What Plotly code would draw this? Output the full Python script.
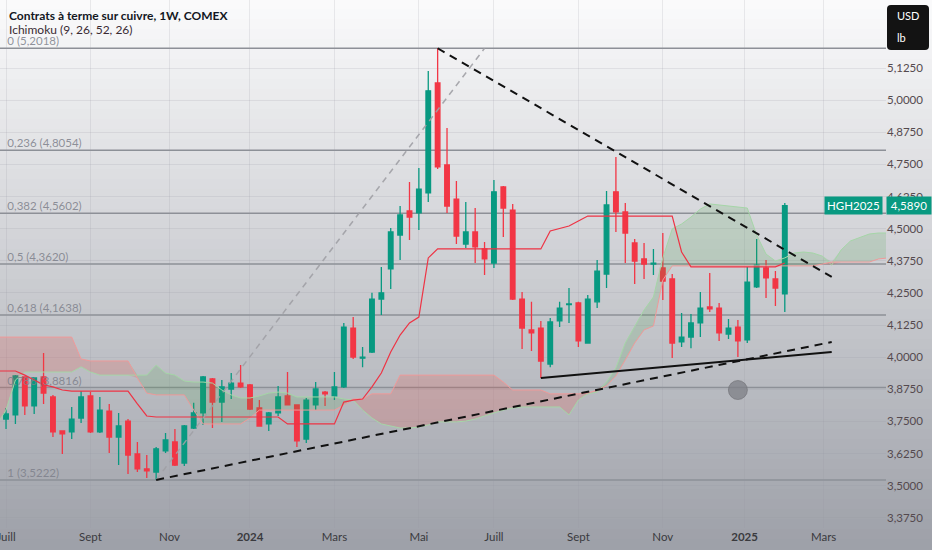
import pandas as pd
import plotly.graph_objects as go

# weekly candles (Monday of each week), HG copper futures
candle_start = "2023-07-03"
opens = [3.759, 3.775, 3.923, 3.810, 3.923, 3.845, 3.713, 3.709, 3.763, 3.849,
         3.709, 3.790, 3.689, 3.751, 3.623, 3.565, 3.553, 3.635, 3.670, 3.588,
         3.724, 3.783, 3.915, 3.825, 3.876, 3.899, 3.892, 3.802, 3.740, 3.783,
         3.849, 3.814, 3.681, 3.814, 3.864, 3.849, 3.884, 4.113, 3.996, 4.020,
         4.226, 4.343, 4.475, 4.569, 4.561, 4.639, 5.067, 4.748, 4.615, 4.440,
         4.487, 4.421, 4.366, 4.662, 4.572, 4.226, 4.106, 4.113, 3.973, 4.141,
         4.204, 4.211, 4.055, 4.215, 4.323, 4.643, 4.565, 4.444, 4.382, 4.362,
         4.347, 4.304, 4.059, 4.078, 4.133, 4.195, 4.191, 4.090, 4.117, 4.067,
         4.273, 4.347, 4.304, 4.246]
highs = [3.802, 3.930, 3.925, 3.923, 4.016, 3.853, 3.713, 3.806, 3.868, 3.864,
         3.845, 3.818, 3.783, 3.759, 3.670, 3.619, 3.650, 3.705, 3.720, 3.736,
         3.822, 3.927, 3.919, 3.911, 3.938, 3.969, 3.895, 3.833, 3.786, 3.888,
         3.942, 3.814, 3.841, 3.903, 3.868, 3.942, 4.133, 4.156, 4.039, 4.250,
         4.351, 4.502, 4.588, 4.681, 4.736, 5.113, 5.2018, 4.892, 4.685, 4.604,
         4.580, 4.448, 4.689, 4.666, 4.596, 4.253, 4.215, 4.141, 4.152, 4.215,
         4.269, 4.215, 4.242, 4.378, 4.646, 4.779, 4.600, 4.460, 4.444, 4.421,
         4.483, 4.323, 4.172, 4.168, 4.253, 4.327, 4.211, 4.148, 4.144, 4.351,
         4.460, 4.378, 4.335, 4.600]
lows = [3.720, 3.740, 3.775, 3.779, 3.818, 3.689, 3.623, 3.681, 3.744, 3.705,
        3.705, 3.627, 3.580, 3.545, 3.553, 3.530, 3.5222, 3.627, 3.576, 3.576,
        3.720, 3.736, 3.724, 3.748, 3.837, 3.880, 3.794, 3.732, 3.713, 3.771,
        3.814, 3.650, 3.666, 3.794, 3.810, 3.833, 3.880, 3.993, 3.961, 4.016,
        4.164, 4.265, 4.378, 4.456, 4.495, 4.604, 4.732, 4.561, 4.440, 4.425,
        4.366, 4.320, 4.347, 4.467, 4.222, 4.032, 4.024, 3.919, 3.961, 4.117,
        4.133, 4.039, 4.052, 4.191, 4.269, 4.487, 4.366, 4.285, 4.304, 4.320,
        4.222, 3.997, 4.039, 4.035, 4.078, 4.176, 4.063, 4.071, 4.000, 4.055,
        4.269, 4.230, 4.199, 4.176]
closes = [3.779, 3.927, 3.810, 3.919, 3.860, 3.709, 3.701, 3.759, 3.845, 3.709,
          3.794, 3.689, 3.732, 3.619, 3.565, 3.557, 3.643, 3.678, 3.580, 3.732,
          3.783, 3.923, 3.825, 3.884, 3.899, 3.884, 3.798, 3.732, 3.783, 3.845,
          3.814, 3.674, 3.833, 3.876, 3.857, 3.884, 4.117, 4.000, 4.000, 4.226,
          4.250, 4.487, 4.553, 4.545, 4.654, 5.036, 4.740, 4.588, 4.471, 4.487,
          4.429, 4.382, 4.643, 4.580, 4.226, 4.113, 4.094, 3.985, 4.137, 4.191,
          4.207, 4.063, 4.226, 4.335, 4.592, 4.565, 4.483, 4.374, 4.362, 4.366,
          4.296, 4.055, 4.078, 4.133, 4.191, 4.188, 4.094, 4.113, 4.063, 4.292,
          4.358, 4.308, 4.269, 4.589]

# ichimoku lines as drawn (base line, and the cloud which runs 26 weeks ahead)
ichi_start = "2023-06-26"
kijun = [3.946, 3.946, 3.946, 3.930, 3.911, 3.892, 3.884, 3.872, 3.868, 3.868,
         3.868, 3.868, 3.868, 3.868, 3.868, 3.818, 3.771, 3.767, 3.767, 3.767,
         3.767, 3.767, 3.767, 3.767, 3.767, 3.767, 3.767, 3.767, 3.767, 3.767,
         3.767, 3.740, 3.740, 3.740, 3.740, 3.740, 3.740, 3.825, 3.833, 3.837,
         3.884, 3.938, 4.020, 4.086, 4.133, 4.156, 4.386, 4.421, 4.421, 4.421,
         4.421, 4.421, 4.421, 4.421, 4.421, 4.421, 4.421, 4.421, 4.421, 4.491,
         4.502, 4.510, 4.530, 4.549, 4.549, 4.549, 4.549, 4.549, 4.549, 4.549,
         4.549, 4.549, 4.549, 4.409, 4.351, 4.351, 4.351, 4.351, 4.351, 4.351,
         4.351, 4.351, 4.351, 4.351, 4.366]
span_a = [3.736, 3.794, 3.911, 3.942, 3.942, 3.942, 3.942, 3.942, 3.942, 3.962,
          3.942, 3.930, 3.930, 3.930, 3.930, 3.930, 3.930, 3.969, 3.938, 3.930,
          3.907, 3.903, 3.903, 3.899, 3.872, 3.853, 3.841, 3.841, 3.849, 3.860,
          3.864, 3.860, 3.845, 3.845, 3.845, 3.845, 3.845, 3.837, 3.833, 3.794,
          3.763, 3.740, 3.732, 3.724, 3.724, 3.728, 3.736, 3.748, 3.748, 3.748,
          3.751, 3.759, 3.771, 3.783, 3.794, 3.802, 3.806, 3.806, 3.806, 3.806,
          3.806, 3.775, 3.833, 3.857, 3.864, 3.903, 3.958, 4.055, 4.117, 4.183,
          4.234, 4.386, 4.499, 4.518, 4.545, 4.576, 4.596, 4.592, 4.588, 4.584,
          4.580, 4.475, 4.401, 4.374, 4.386, 4.405, 4.409, 4.405, 4.393, 4.358,
          4.417, 4.452, 4.467, 4.479, 4.483, 4.483]
span_b = [4.078, 4.078, 4.078, 4.078, 4.078, 4.078, 4.078, 4.078, 4.078, 3.993,
          3.985, 3.985, 3.985, 3.985, 3.985, 3.919, 3.860, 3.853, 3.853, 3.853,
          3.853, 3.794, 3.740, 3.740, 3.740, 3.740, 3.740, 3.763, 3.794, 3.794,
          3.794, 3.794, 3.794, 3.794, 3.794, 3.794, 3.794, 3.814, 3.837, 3.837,
          3.857, 3.857, 3.857, 3.930, 3.930, 3.930, 3.930, 3.930, 3.930, 3.930,
          3.930, 3.930, 3.930, 3.930, 3.903, 3.872, 3.872, 3.872, 3.872, 3.857,
          3.857, 3.857, 3.857, 3.860, 3.872, 3.888, 3.927, 3.989, 4.055, 4.106,
          4.121, 4.300, 4.355, 4.355, 4.355, 4.355, 4.355, 4.355, 4.355, 4.355,
          4.355, 4.355, 4.355, 4.355, 4.355, 4.355, 4.355, 4.355, 4.362, 4.370,
          4.370, 4.370, 4.370, 4.370, 4.382, 4.386]

# fibonacci retracement
fib_ratios = [0, 0.236, 0.382, 0.5, 0.618, 0.786, 1]
fib_prices = [5.2018, 4.8054, 4.5602, 4.3620, 4.1638, 3.8816, 3.5222]
fib_label_date = "2023-07-04"
fib_diag_dates = ["2023-10-23", "2024-06-24"]
fib_diag_prices = [3.5222, 5.2018]

# trend lines drawn on the chart
low_trend_dates = ["2023-10-23", "2025-03-10"]
low_trend_prices = [3.5222, 4.059]
high_trend_dates = ["2024-05-20", "2025-03-10"]
high_trend_prices = [5.2018, 4.312]
support_dates = ["2024-08-05", "2025-03-10"]
support_prices = [3.919, 4.020]
event_dates = ["2024-12-30"]
event_prices = [3.872]

last_price = 4.589

# time axis labels sit on the first weekly bar of each month
month_ticks = ["2023-07-03", "2023-09-04", "2023-11-02", "2024-01-01", "2024-03-04",
               "2024-05-06", "2024-07-01", "2024-09-02", "2024-11-04", "2025-01-04",
               "2025-03-04"]
month_labels = ["Juill", "Sept", "Nov", "<b>2024</b>", "Mars", "Mai", "Juill", "Sept",
                "Nov", "<b>2025</b>", "Mars"]
price_ticks = [3.375, 3.5, 3.625, 3.75, 3.875, 4.0, 4.125, 4.25, 4.375, 4.5, 4.625,
               4.75, 4.875, 5.0, 5.125]

GREEN = "#089981"
RED = "#F23645"

candle_dates = pd.date_range(candle_start, periods=len(opens), freq="W-MON")
ichi_dates = pd.date_range(ichi_start, periods=len(span_a), freq="W-MON")
kijun_dates = ichi_dates[:len(kijun)]

fig = go.Figure()

# cloud: green where span A is above span B, red otherwise
upper = [max(a, b) for a, b in zip(span_a, span_b)]
lower = [min(a, b) for a, b in zip(span_a, span_b)]
clear = dict(width=0, color="rgba(0,0,0,0)")
fig.add_trace(go.Scatter(x=ichi_dates, y=span_b, mode="lines", line=clear, hoverinfo="skip"))
fig.add_trace(go.Scatter(x=ichi_dates, y=upper, mode="lines", line=clear, fill="tonexty",
                         fillcolor="rgba(67,160,71,0.16)", hoverinfo="skip"))
fig.add_trace(go.Scatter(x=ichi_dates, y=span_b, mode="lines", line=clear, hoverinfo="skip"))
fig.add_trace(go.Scatter(x=ichi_dates, y=lower, mode="lines", line=clear, fill="tonexty",
                         fillcolor="rgba(244,67,54,0.18)", hoverinfo="skip"))
fig.add_trace(go.Scatter(x=ichi_dates, y=span_a, mode="lines",
                         line=dict(color="#A5D6A7", width=1)))
fig.add_trace(go.Scatter(x=ichi_dates, y=span_b, mode="lines",
                         line=dict(color="#EF9A9A", width=1)))
fig.add_trace(go.Scatter(x=kijun_dates, y=kijun, mode="lines",
                         line=dict(color="#EE3344", width=1.2)))

# fib labels go under the candles, like on the original
fib_labels = [f"{r} ({p:.4f})".replace(".", ",") for r, p in zip(fib_ratios, fib_prices)]
fig.add_trace(go.Scatter(x=[fib_label_date] * len(fib_prices), y=fib_prices, mode="text",
                         text=fib_labels, textposition="top right",
                         textfont=dict(size=11.5, color="rgba(125,128,138,0.85)")))

# fib diagonal
fig.add_trace(go.Scatter(x=fib_diag_dates, y=fib_diag_prices, mode="lines",
                         line=dict(color="rgba(160,160,165,0.9)", width=1.5, dash="6px,5px")))

fig.add_trace(go.Candlestick(
    x=candle_dates, open=opens, high=highs, low=lows, close=closes,
    increasing=dict(line=dict(color=GREEN, width=1.3), fillcolor=GREEN),
    decreasing=dict(line=dict(color=RED, width=1.3), fillcolor=RED),
))

# drawings
fig.add_trace(go.Scatter(x=low_trend_dates, y=low_trend_prices, mode="lines",
                         line=dict(color="#111111", width=2, dash="8px,6px")))
fig.add_trace(go.Scatter(x=high_trend_dates, y=high_trend_prices, mode="lines",
                         line=dict(color="#111111", width=2, dash="8px,6px")))
fig.add_trace(go.Scatter(x=support_dates, y=support_prices, mode="lines",
                         line=dict(color="#111111", width=2)))
fig.add_trace(go.Scatter(x=event_dates, y=event_prices, mode="markers",
                         marker=dict(size=19, color="rgba(125,127,133,0.75)",
                                     line=dict(width=1, color="rgba(110,110,115,0.6)"))))

# background gradient, white at the top going grey at the bottom
PLOT_H = 528
n_strips = 55
for i in range(n_strips):
    t = (i + 0.5) / n_strips
    r = round(251 + (157 - 251) * t)
    g = round(251 + (160 - 251) * t)
    b = round(252 + (168 - 252) * t)
    top_px = 550 * i / n_strips
    bot_px = 550 * (i + 1) / n_strips
    fig.add_shape(type="rect", xref="paper", yref="paper", x0=-0.01, x1=1.06,
                  y0=(PLOT_H - bot_px) / PLOT_H, y1=(PLOT_H - top_px) / PLOT_H + 0.002,
                  fillcolor=f"rgb({r},{g},{b})", line_width=0, layer="below")

# fib levels
for price in fib_prices:
    fig.add_shape(type="line", xref="paper", yref="y", x0=0, x1=1, y0=price, y1=price,
                  line=dict(color="#8d9097", width=1.5), layer="below")

# titles
fig.add_annotation(x=0.008, y=(PLOT_H - 15) / PLOT_H, xref="paper", yref="paper",
                   text="<b>Contrats à terme sur cuivre, 1W, COMEX</b>", showarrow=False,
                   xanchor="left", yanchor="middle", font=dict(size=12, color="#131722"))
fig.add_annotation(x=0.008, y=(PLOT_H - 30) / PLOT_H, xref="paper", yref="paper",
                   text="Ichimoku (9, 26, 52, 26)", showarrow=False,
                   xanchor="left", yanchor="middle", font=dict(size=12, color="#3a2a33"))

# currency box, top right
x0, x1 = 887 / 886, 929 / 886
y0, y1 = (PLOT_H - 50) / PLOT_H, (PLOT_H - 5) / PLOT_H
rx, ry = 4 / 886, 4 / PLOT_H
box = (f"M {x0+rx},{y1} L {x1-rx},{y1} Q {x1},{y1} {x1},{y1-ry} L {x1},{y0+ry} "
       f"Q {x1},{y0} {x1-rx},{y0} L {x0+rx},{y0} Q {x0},{y0} {x0},{y0+ry} "
       f"L {x0},{y1-ry} Q {x0},{y1} {x0+rx},{y1} Z")
fig.add_shape(type="path", xref="paper", yref="paper", path=box,
              fillcolor="#131313", line_width=0, layer="above")
fig.add_annotation(x=895 / 886, y=(PLOT_H - 15) / PLOT_H, xref="paper", yref="paper",
                   text="USD", showarrow=False, xanchor="left", yanchor="middle",
                   font=dict(size=11, color="white"))
fig.add_annotation(x=895 / 886, y=(PLOT_H - 37) / PLOT_H, xref="paper", yref="paper",
                   text="lb", showarrow=False, xanchor="left", yanchor="middle",
                   font=dict(size=11, color="white"))

# last price labels
fig.add_annotation(x=1, y=last_price, xref="paper", yref="y", text="HGH2025",
                   showarrow=False, xanchor="right", yanchor="middle", xshift=-3,
                   bgcolor=GREEN, borderpad=2, font=dict(size=11.5, color="white"))
fig.add_annotation(x=1, y=last_price, xref="paper", yref="y",
                   text=f"{last_price:.4f}".replace(".", ","),
                   showarrow=False, xanchor="left", yanchor="middle", xshift=0,
                   bgcolor=GREEN, borderpad=2, width=40,
                   font=dict(size=11.5, color="white"))

fig.update_layout(
    width=932, height=550,
    margin=dict(l=0, r=46, t=0, b=22, autoexpand=False),
    paper_bgcolor="#d0d1d5", plot_bgcolor="rgba(0,0,0,0)",
    showlegend=False, hovermode=False, separators=", ",
    font=dict(family="Lato, Roboto, sans-serif", size=11.5, color="#54494e"),
    xaxis=dict(type="date", range=["2023-06-28 12:00", "2025-04-19 12:00"],
               tickmode="array", tickvals=month_ticks, ticktext=month_labels,
               showgrid=True, gridcolor="rgba(150,152,160,0.18)", gridwidth=1,
               rangeslider=dict(visible=False), zeroline=False, showline=False,
               ticks="", ticklabeloverflow="allow",
               tickfont=dict(size=11.5, color="#3a3a3e"), fixedrange=True),
    yaxis=dict(side="right", range=[3.3351, 5.3896], tickmode="array",
               tickvals=price_ticks, tickformat=".4f", showgrid=True,
               gridcolor="rgba(150,152,160,0.18)", zeroline=False, showline=False,
               ticks="", fixedrange=True),
)

# the page body has a default 8px margin; drop it so the chart fills the window
fig.write_html("out.html", config={"displayModeBar": False},
               post_script="document.body.style.margin='0';")
